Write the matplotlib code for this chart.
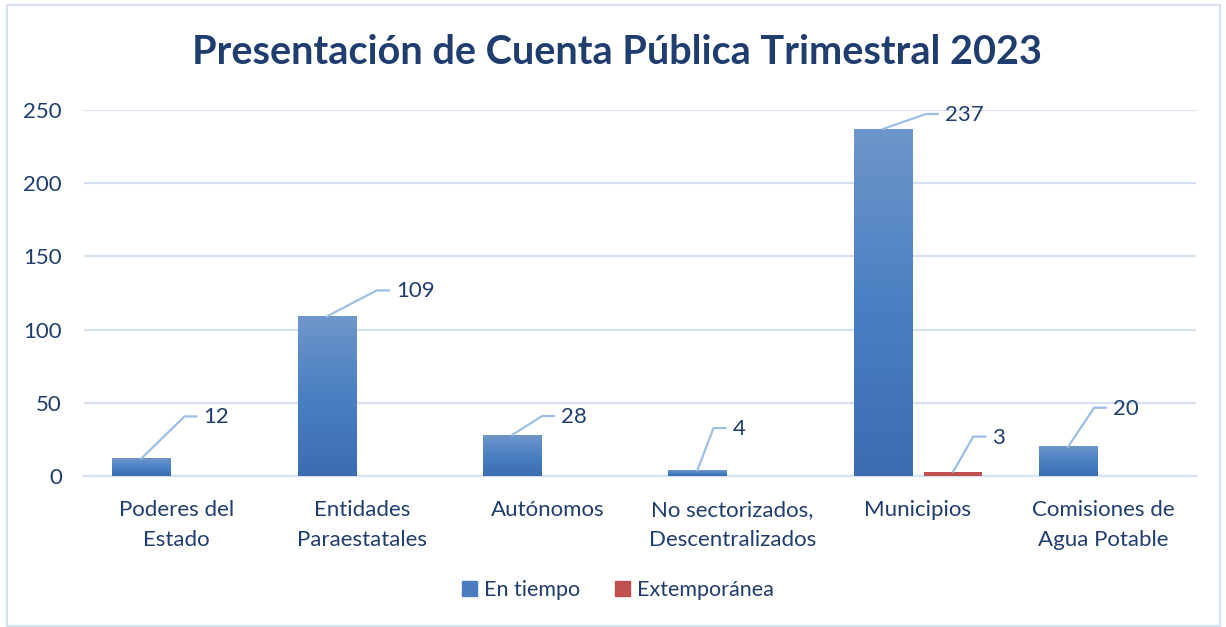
import numpy as np
import matplotlib
matplotlib.use("Agg")
import matplotlib.pyplot as plt
from matplotlib.colors import LinearSegmentedColormap
from matplotlib.patches import Rectangle
from matplotlib.lines import Line2D

# data
categories = ["Poderes del\nEstado", "Entidades\nParaestatales", "Autónomos",
              "No sectorizados,\nDescentralizados", "Municipios", "Comisiones de\nAgua Potable"]
en_tiempo = [12, 109, 28, 4, 237, 20]
extemporanea = [0, 0, 0, 0, 3, 0]
series_names = ["En tiempo", "Extemporánea"]
title = "Presentación de Cuenta Pública Trimestral 2023"

# leader line offsets (pixels) for the data labels: (dx, dy) from bar top to elbow
blue_offsets = [(43, 42), (50, 26), (30, 19), (16, 42), (43, 15), (26, 39)]
red_offsets = {4: (20, 35)}

TXT = "#1f3d6e"
GRID = "#d5e1f1"
LEADER = "#9dbfe6"
RED = "#c0504d"

plt.rcParams["font.family"] = ["Lato", "DejaVu Sans"]

fig = plt.figure(figsize=(12.26, 6.27), dpi=100)
ax = fig.add_axes([84 / 1226, 151 / 627, 1112 / 1226, 366 / 627])

x = np.arange(len(categories))
w = 0.313
off = 0.19

# gradient blue bars
cmap = LinearSegmentedColormap.from_list("blu", ["#3b6db0", "#4a80c2", "#6e96ca"])
grad = np.linspace(0, 1, 256).reshape(-1, 1)
for xi, v in zip(x, en_tiempo):
    ax.imshow(grad, extent=[xi - off - w / 2, xi - off + w / 2, 0, v], origin="lower",
              aspect="auto", cmap=cmap, zorder=3)
# red bars
ax.bar(x + off, extemporanea, width=w, color=RED, zorder=3)
ax.set_xlim(-0.5, len(categories) - 0.5)
ax.set_ylim(0, 250)

ax.set_yticks(range(0, 251, 50))
ax.yaxis.grid(True, color=GRID, linewidth=1.6, zorder=0)
ax.set_axisbelow(True)
for s in ["top", "right", "left"]:
    ax.spines[s].set_visible(False)
ax.spines["bottom"].set_color(GRID)
ax.spines["bottom"].set_linewidth(1.6)
ax.tick_params(axis="y", length=0, pad=16, labelsize=16, labelcolor=TXT)
ax.tick_params(axis="x", length=0, pad=17, labelsize=16, labelcolor=TXT)
ax.set_xticks(x)
ax.set_xticklabels(categories, linespacing=1.65, va="top")

fig.text(0.503, 1 - 53 / 627, title, ha="center", va="center", fontsize=28.5,
         fontweight="bold", color=TXT)

# data labels with leader lines
fig.canvas.draw()
H = fig.bbox.height


def label(xv, v, dx, dy):
    px, py = ax.transData.transform((xv, v))
    ex, ey = px + dx, py + dy
    fig.add_artist(Line2D([px, ex, ex + 12], [py, ey, ey], color=LEADER, linewidth=1.6,
                          transform=None, zorder=5))
    fig.text((ex + 19) / fig.bbox.width, (ey - 1) / H, str(v), ha="left", va="center",
             fontsize=16, color=TXT)


for xi, v, (dx, dy) in zip(x, en_tiempo, blue_offsets):
    label(xi - off, v, dx, dy)
for i, (dx, dy) in red_offsets.items():
    label(x[i] + off, extemporanea[i], dx, dy)

handles = [Rectangle((0, 0), 1, 1, color="#4a7cbf"), Rectangle((0, 0), 1, 1, color=RED)]
fig.legend(handles, series_names, loc="center", bbox_to_anchor=(0.504, 1 - 590 / 627), ncol=2,
           frameon=False, fontsize=15.5, labelcolor=TXT, handlelength=0.7, handleheight=0.7,
           handletextpad=0.35, columnspacing=1.6)

# chart border
fig.add_artist(Rectangle((7 / 1226, 0.002), 1213 / 1226, 1 - 5 / 627 - 0.002, fill=False,
                         edgecolor=GRID, linewidth=1.6, transform=fig.transFigure))

fig.savefig("out.png", dpi=100)
